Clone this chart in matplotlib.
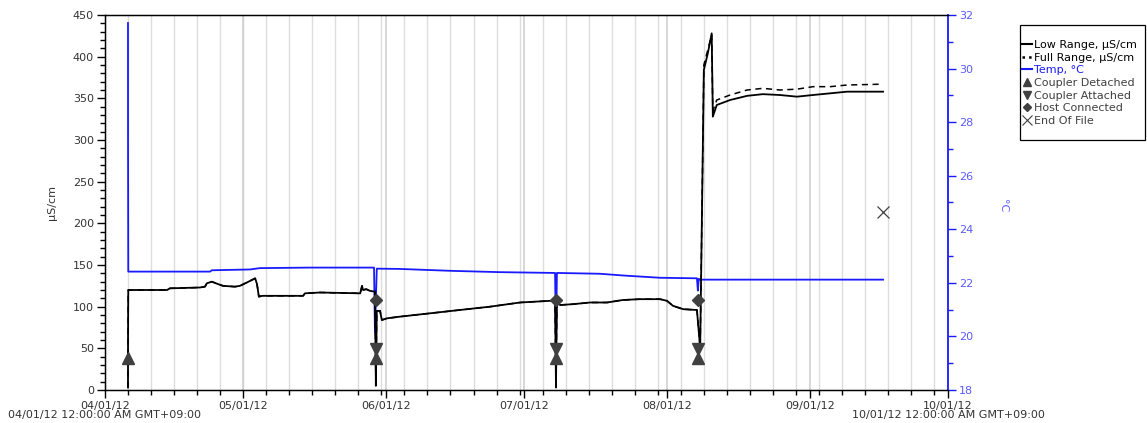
import matplotlib
matplotlib.use("Agg")
import matplotlib.pyplot as plt
import matplotlib.dates as mdates
from matplotlib.lines import Line2D
from matplotlib.patches import Rectangle
from matplotlib.ticker import MultipleLocator, FixedLocator
import numpy as np
import datetime as dt

START = dt.datetime(2012, 4, 1)
END = dt.datetime(2012, 10, 1)

# ---- data (days since 04/01/12 00:00) ----
low_days = [4.99, 5.0, 5.05, 13.46, 14.1, 20.6, 21.7, 22.1, 23.2, 24.1, 25.6, 28.2, 29.3,
            30.8, 32.6, 33.0, 33.4, 34.1, 43.0, 43.4, 46.7, 55.4, 55.8, 56.0, 56.7, 57.5,
            58.6, 58.8, 59.0, 59.7, 60.1, 61.2, 64.0, 70.5, 77.0, 83.6, 90.1, 96.6, 97.7,
            97.9, 98.1, 98.8, 101.6, 105.3, 109.0, 112.4, 116.1, 120.5, 122.0, 123.3,
            125.5, 128.5, 129.2, 129.8, 130.0, 130.9, 131.7, 131.95, 132.8, 135.7, 139.4,
            142.8, 146.5, 150.2, 153.7, 157.4, 161.1, 168.9]
low_vals = [3, 62, 120, 120, 122, 123, 124, 128, 130, 128, 125, 124, 125,
            129, 134, 127, 112, 113, 113, 116, 117, 116, 125, 120, 121, 119,
            118, 5, 95, 95, 84, 86, 88, 92, 96, 100, 105, 107, 107,
            3, 106, 102, 103, 105, 105, 108, 109, 109, 107, 101,
            97, 96, 50, 300, 384, 405, 428, 328, 342, 348, 353,
            355, 354, 352, 354, 356, 358, 358]

full_days = [4.99, 5.0, 5.05, 13.46, 14.1, 20.6, 21.7, 22.1, 23.2, 24.1, 25.6, 28.2, 29.3,
             30.8, 32.6, 33.0, 33.4, 34.1, 43.0, 43.4, 46.7, 55.4, 55.8, 56.0, 56.7, 57.5,
             58.6, 58.8, 59.0, 59.7, 60.1, 61.2, 64.0, 70.5, 77.0, 83.6, 90.1, 96.6, 97.7,
             97.9, 98.1, 98.8, 101.6, 105.3, 109.0, 112.4, 116.1, 120.5, 122.0, 123.3,
             125.5, 128.5, 129.2, 129.8, 130.0, 131.7, 131.95, 132.8, 135.7, 139.4,
             142.8, 146.5, 150.2, 153.7, 157.4, 161.1, 168.9]
full_vals = [3, 60, 120, 120, 122, 123, 124, 128, 130, 128, 125, 124, 125,
             129, 134, 127, 112, 113, 113, 116, 117, 116, 125, 120, 121, 119,
             118, 5, 95, 95, 84, 86, 88, 92, 96, 100, 105, 107, 107,
             3, 106, 102, 103, 105, 105, 108, 109, 109, 107, 101,
             97, 96, 50, 300, 390, 426, 335, 348, 354, 360,
             362, 360, 361, 364, 364, 366, 367]

temp_days = [4.99, 5.0, 5.05, 6.3, 22.8, 23.2, 31.5, 33.6, 44.5, 58.4, 58.6, 59.0,
             64.0, 74.9, 85.7, 97.7, 97.9, 98.1, 107.4, 112.9, 120.5, 128.5, 128.7,
             128.9, 129.2, 168.9]
temp_vals = [31.7, 27.34, 22.42, 22.42, 22.42, 22.47, 22.5, 22.55, 22.57, 22.57, 20.15, 22.53,
             22.52, 22.45, 22.40, 22.37, 19.7, 22.37, 22.34, 22.27, 22.19, 22.17, 21.71,
             22.15, 22.12, 22.12]

detached_days = [4.99, 58.8, 97.9, 128.7]
detached_vals = [38, 38, 38, 38]
attached_days = [58.8, 97.9, 128.7]
attached_vals = [49, 49, 49]
host_days = [58.8, 97.9, 128.7]
host_vals = [108, 108, 108]
eof_days = [168.9]
eof_vals = [214]

legend_labels = ["Low Range, µS/cm", "Full Range, µS/cm", "Temp, °C", "Coupler Detached",
                 "Coupler Attached", "Host Connected", "End Of File"]
xtick_fmt = "%m/%d/%y"
start_label = "04/01/12 12:00:00 AM GMT+09:00"
end_label = "10/01/12 12:00:00 AM GMT+09:00"


def to_dates(days):
    return [START + dt.timedelta(days=d) for d in days]


BLUE = "#1a1aff"
LBLUE = "#5a5aff"
GRAY = "#404040"
TXT = "#333333"
FS = 8
W, H = 1147, 423

fig = plt.figure(figsize=(W / 100, H / 100), dpi=100)
ax = fig.add_axes([105 / W, 33 / H, 843 / W, 375 / H])
ax2 = ax.twinx()
ax.set_zorder(ax2.get_zorder() + 1)
ax.patch.set_visible(False)

# axes limits
ax.set_xlim(START, END)
ax.set_ylim(0, 450)
ax2.set_ylim(18, 32)

# x ticks
ax.xaxis.set_major_locator(mdates.MonthLocator())
ax.xaxis.set_major_formatter(mdates.DateFormatter(xtick_fmt))
minor = [mdates.date2num(START + dt.timedelta(days=int(k))) for k in np.arange(0, 184, 5)]
ax.xaxis.set_minor_locator(FixedLocator(minor))

# vertical grid lines (rear axis)
for m in minor:
    ax2.axvline(m, color="#dddddd", lw=1.0, zorder=0)
for m in ax.xaxis.get_major_locator()():
    ax2.axvline(m, color="#cdcdcd", lw=1.1, zorder=0)

# temperature (behind)
ax2.plot(to_dates(temp_days), temp_vals, color=BLUE, lw=1.3, zorder=3)

# conductivity
ax.plot(to_dates(full_days), full_vals, color="black", lw=1.1, ls=(0, (4, 3)), zorder=3)
ax.plot(to_dates(low_days), low_vals, color="black", lw=1.3, zorder=4)

mk = dict(color=GRAY, ls="none", zorder=6)
ax.plot(to_dates(detached_days), detached_vals, marker="^", ms=8, **mk)
ax.plot(to_dates(attached_days), attached_vals, marker="v", ms=8, **mk)
ax.plot(to_dates(host_days), host_vals, marker="D", ms=6, **mk)
ax.plot(to_dates(eof_days), eof_vals, marker="x", ms=9, mew=0.9, **mk)

ax.yaxis.set_major_locator(MultipleLocator(50))
ax.yaxis.set_minor_locator(MultipleLocator(10))
ax2.yaxis.set_major_locator(MultipleLocator(2))
ax2.yaxis.set_minor_locator(MultipleLocator(1))

ax.tick_params(axis="both", which="major", direction="out", length=6, width=1,
               labelsize=FS, labelcolor=TXT, color="black", pad=2)
ax.tick_params(axis="both", which="minor", direction="out", length=3.5, width=1, color="black")
ax.tick_params(axis="y", which="both", right=False)
ax2.tick_params(axis="y", which="major", direction="out", length=6, width=1,
                labelsize=FS, labelcolor=LBLUE, color=BLUE, pad=2)
ax2.tick_params(axis="y", which="minor", direction="out", length=3.5, width=1, color=BLUE)

for s in ["left", "bottom", "top"]:
    ax.spines[s].set_color("black")
    ax.spines[s].set_linewidth(1.0)
    ax2.spines[s].set_color("black")
ax.spines["right"].set_visible(False)
ax2.spines["right"].set_color(BLUE)
ax2.spines["right"].set_linewidth(1.3)

ax.set_ylabel("µS/cm", fontsize=FS, color=TXT)
ax.yaxis.set_label_coords(-0.057, 0.5)
ax2.set_ylabel("°C", fontsize=FS, color=LBLUE, rotation=-90, va="center")
ax2.yaxis.set_label_coords(1.065, 0.493)

fig.text(105 / W, (H - 415) / H, start_label, ha="center", va="center",
         fontsize=FS, color=TXT)
fig.text(948 / W, (H - 415) / H, end_label, ha="center", va="center",
         fontsize=FS, color=TXT)

# legend: frame drawn separately, entries placed inside
fig.patches.append(Rectangle((1020 / W, 1 - 140 / H), 125 / W, 115 / H,
                             transform=fig.transFigure, fill=True, facecolor="white",
                             edgecolor="black", lw=0.9, zorder=1))
handles = [
    Line2D([], [], color="black", lw=1.5),
    Line2D([], [], color="black", lw=1.8, ls=":"),
    Line2D([], [], color=BLUE, lw=1.5),
    Line2D([], [], color=GRAY, marker="^", ls="none", ms=6),
    Line2D([], [], color=GRAY, marker="v", ls="none", ms=6),
    Line2D([], [], color=GRAY, marker="D", ls="none", ms=4.5),
    Line2D([], [], color=GRAY, marker="x", ls="none", ms=7, mew=0.8),
]
leg = fig.legend(handles, legend_labels, loc="upper left",
                 bbox_to_anchor=(1022 / W, 1 - 40 / H), borderaxespad=0,
                 fontsize=FS, frameon=False,
                 handlelength=0.9, handletextpad=0.2, labelspacing=0.24,
                 borderpad=0.0)
leg.set_zorder(5)
cols = ["black", "black", BLUE, GRAY, GRAY, GRAY, GRAY]
for t, c in zip(leg.get_texts(), cols):
    t.set_color(c)

fig.savefig("out.png", dpi=100)
